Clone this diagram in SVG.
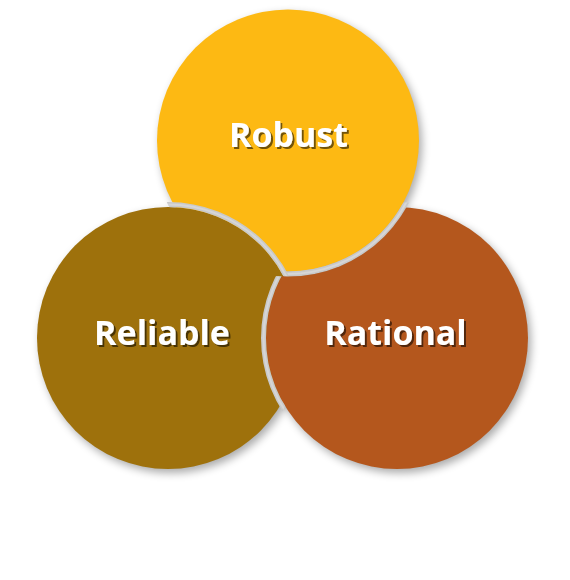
<svg xmlns="http://www.w3.org/2000/svg" width="570" height="580" viewBox="0 0 570 580">
  <defs>
    <!-- soft offset blur used for the disc shadows -->
    <filter id="discShadow" x="-20%" y="-20%" width="145%" height="145%">
      <feGaussianBlur in="SourceGraphic" stdDeviation="4.5"/>
      <feOffset dx="3" dy="4"/>
    </filter>
    <!-- embossed label shadow -->
    <filter id="labelShadow" x="-10%" y="-20%" width="125%" height="150%">
      <feDropShadow dx="2" dy="2" stdDeviation="0.7" flood-color="#000" flood-opacity="0.55"/>
    </filter>
    <!-- disc footprints, including the rim ring -->
    <clipPath id="onRational"><circle cx="397" cy="338" r="136"/></clipPath>
    <clipPath id="onRobust"><circle cx="288" cy="140.5" r="136"/></clipPath>
    <clipPath id="onReliable"><circle cx="168" cy="338" r="136"/></clipPath>
    <!-- interlocked stacking: Robust stays above Rational -->
    <mask id="besideRobust" maskUnits="userSpaceOnUse" x="0" y="0" width="570" height="580">
      <rect width="570" height="580" fill="#fff"/>
      <circle cx="288" cy="140.5" r="136" fill="#000"/>
    </mask>
  </defs>
  <style>
    .label { font-family: "Open Sans", "Noto Sans", "Liberation Sans", sans-serif; font-weight: 700; font-size: 34px; fill: #ffffff; text-anchor: middle; filter: url(#labelShadow); }
    .rim { fill: none; stroke: #c9c9c9; stroke-width: 5; }
    .rim-hi { fill: none; stroke: #d6d6d6; stroke-width: 2; }
  </style>

  <rect width="570" height="580" fill="#ffffff"/>

  <!-- shadows sit beneath every disc -->
  <g id="shadows" fill="#000" opacity="0.33" filter="url(#discShadow)">
    <circle cx="168" cy="338" r="131"/>
    <circle cx="288" cy="140.5" r="131"/>
    <circle cx="397" cy="338" r="131"/>
  </g>

  <g id="robust">
    <circle cx="288" cy="140.5" r="131" fill="#fdb913"/>
    <g clip-path="url(#onRational)">
      <circle class="rim" cx="288" cy="140.5" r="133.5"/>
      <circle class="rim-hi" cx="288" cy="140.5" r="133.5"/>
    </g>
    <text class="label" x="288.5" y="147">Robust</text>
  </g>

  <g id="reliable">
    <circle cx="168" cy="338" r="131" fill="#9e710c"/>
    <g clip-path="url(#onRobust)">
      <circle class="rim" cx="168" cy="338" r="133.5"/>
      <circle class="rim-hi" cx="168" cy="338" r="133.5"/>
    </g>
    <text class="label" x="162" y="345">Reliable</text>
  </g>

  <g id="rational" mask="url(#besideRobust)">
    <circle cx="397" cy="338" r="131" fill="#b4571d"/>
    <g clip-path="url(#onReliable)">
      <circle class="rim" cx="397" cy="338" r="133.5"/>
      <circle class="rim-hi" cx="397" cy="338" r="133.5"/>
    </g>
    <text class="label" x="395.5" y="345">Rational</text>
  </g>
</svg>
